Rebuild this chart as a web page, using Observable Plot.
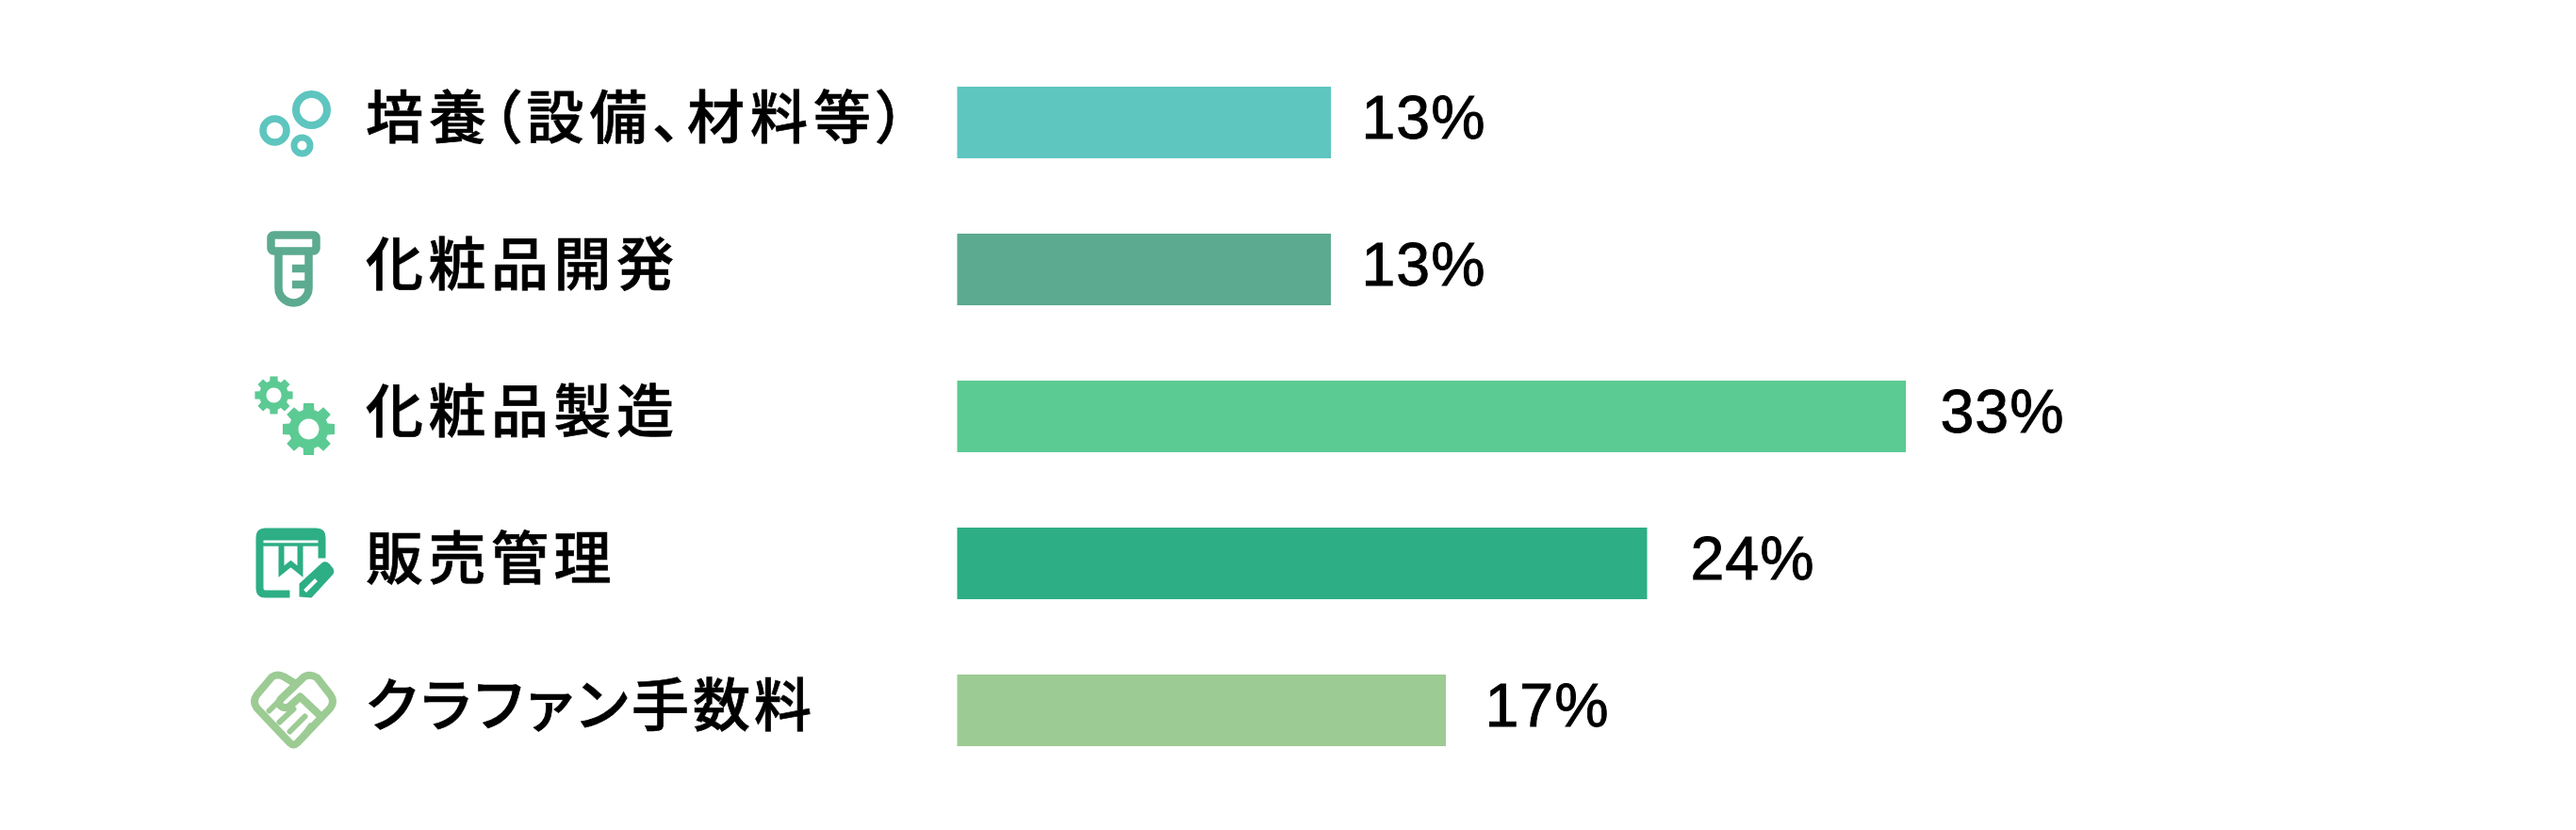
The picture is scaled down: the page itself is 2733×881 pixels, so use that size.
<!DOCTYPE html>
<html lang="ja">
<head>
<meta charset="utf-8">
<script src="https://cdn.jsdelivr.net/npm/d3@7"></script>
<script src="https://cdn.jsdelivr.net/npm/@observablehq/plot@0.6"></script>
<style>
html,body{margin:0;padding:0;background:#fff}
svg{display:block}
g[aria-label="y-axis tick label"] text{letter-spacing:5.5px;font-feature-settings:"palt";font-family:"Noto Sans CJK JP";font-weight:500;fill:#000;stroke:#000;stroke-width:.7px}
g[aria-label="y-axis tick label"] text:nth-child(1){letter-spacing:6px}
g[aria-label="y-axis tick label"] text:nth-child(5){letter-spacing:4px}
g[aria-label="text"] text{letter-spacing:1px;font-family:"Liberation Sans";fill:#000;stroke:#000;stroke-width:.9px}
</style>
</head>
<body>
<div id="chart"></div>
<script>
const categories = ["培養（設備、材料等）","化粧品開発","化粧品製造","販売管理","クラファン手数料"];
const shares = [13,13,33,24,17];
const barColors = ["#5EC5BF","#5CAA90","#5CCA93","#2DAE85","#9CCB94"];
const labelGaps = [32,32,36,45.5,41];

function gearPath(cx,cy,R,tooth,n){
  let d="";
  for(let i=0;i<n;i++){
    const a=i*2*Math.PI/n-Math.PI/2, w=Math.PI/n*0.72, b=Math.PI/n*0.5;
    const pt=(r,t)=>`${(cx+r*Math.cos(t)).toFixed(1)},${(cy+r*Math.sin(t)).toFixed(1)}`;
    d+=(i?"L":"M")+pt(R-tooth,a-w)+"L"+pt(R,a-b)+"L"+pt(R,a+b)+"L"+pt(R-tooth,a+w);
  }
  return d+"Z";
}
const iconBodies = [
  c=>`<g fill="none" stroke="${c}"><circle cx="69" cy="36" r="16.5" stroke-width="8"/><circle cx="30" cy="58" r="12.5" stroke-width="7.5"/><circle cx="59" cy="74" r="8.5" stroke-width="7"/></g>`,
  c=>`<g fill="none" stroke="${c}" stroke-width="8.5" stroke-linejoin="round"><rect x="26" y="13" width="48" height="17" rx="3"/><path d="M34,30V69a16,16 0 0 0 32,0V30M48.5,48.5H66M48.5,65.5H66"/></g>`,
  c=>`<g fill="${c}" stroke="none" fill-rule="evenodd"><path d="${gearPath(29,27,20.5,5,8)}M29,19a8,8 0 1 0 .01,0Z"/><path d="${gearPath(66,63,28,7,8)}M66,52a11,11 0 1 0 .01,0Z"/></g>`,
  c=>`<g fill="none" stroke="${c}" stroke-width="8"><path d="M80,44V22q0,-6 -6,-6H20q-6,0 -6,6V76q0,6 6,6H46"/><path d="M14,20H80" stroke-width="10"/><path d="M14,29.5H80" stroke-width="3.5"/><path d="M37,29V58L47,50L57,58V29" stroke-width="6"/><path d="M56,85L56,71L80,49Q84,46 88,50L92,55Q94,59 91,62L69,86Z" fill="${c}" stroke="none"/><path d="M62,79L74,67" stroke="#fff" stroke-width="4"/></g>`,
  c=>`<g fill="none" stroke="${c}" stroke-width="8" stroke-linejoin="round" stroke-linecap="round"><path d="M50,20L40,14Q33,10 27,14L11,33Q6,40 11,47L46,84Q50,88 54,84L89,47Q94,40 89,33L75,15Q68,10 61,14L36,38Q33,43 38,46Q43,48 47,44L57,35L78,55"/><path d="M24,50L34,40M35,62L50,48M46,72L62,56M58,80L68,66" stroke-width="6"/></g>`
];
const iconSrc = i => "data:image/svg+xml;charset=utf-8," + encodeURIComponent(
  `<svg xmlns="http://www.w3.org/2000/svg" viewBox="0 0 100 100" width="100" height="100">${iconBodies[i](barColors[i])}</svg>`);

const rows = categories.map((category,i)=>({category,share:shares[i],icon:iconSrc(i)}));

const chart = Plot.plot({
  width:2733,height:881,
  marginLeft:1015.5,marginRight:711,marginTop:49.5,marginBottom:47.5,
  x:{domain:[0,33],axis:null},
  y:{domain:categories,paddingInner:0.516,paddingOuter:0.258,label:null},
  color:{domain:categories,range:barColors},
  marks:[
    Plot.axisY({anchor:"left",tickSize:0,tickPadding:628,textAnchor:"start",fontSize:61,dy:-3,label:null,lineWidth:Infinity}),
    Plot.barX(rows,{x:"share",y:"category",fill:"category"}),
    rows.map((d,i)=>Plot.text([d],{x:"share",y:"category",text:r=>`${r.share}%`,textAnchor:"start",dx:labelGaps[i],dy:-4,fontSize:64.5})),
    Plot.image(rows,{x:0,y:"category",src:"icon",width:100,height:100,dx:-704.5})
  ]
});
document.getElementById("chart").append(chart);
</script>
</body>
</html>
